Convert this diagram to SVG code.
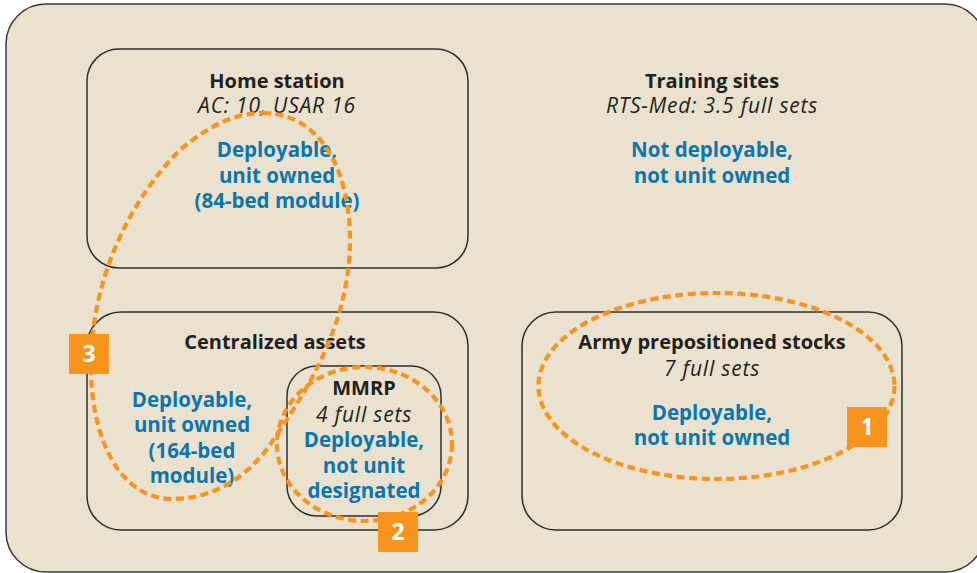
<svg xmlns="http://www.w3.org/2000/svg" width="977" height="573" viewBox="0 0 977 573">
  <style>
    .panel { fill: #EAE1CF; stroke: #3A3A3A; stroke-width: 1.5; }
    .box { fill: none; stroke: #2E2E2E; stroke-width: 1.5; }
    text { font-family: "Open Sans", "Noto Sans", "Liberation Sans", sans-serif; text-anchor: middle; font-size: 20px; }
    .title { font-weight: bold; fill: #231F20; }
    .sub { font-style: italic; fill: #231F20; font-size: 21px; letter-spacing: 0.8px; }
    .status { font-weight: bold; fill: #0B76AE; font-size: 20.5px; }
    .loop { fill: none; stroke: #F7941D; stroke-width: 4.2; stroke-dasharray: 8 4.5; }
    .badge { fill: #F7941D; }
    .badge-num { font-weight: bold; fill: #FFFFFF; font-size: 23px; }
  </style>

  <!-- background panel -->
  <rect class="panel" x="6" y="4" width="979" height="568" rx="40" ry="40"/>

  <g id="home-station">
    <rect class="box" x="87" y="49" width="381" height="219" rx="32" ry="32"/>
    <text class="title" x="277" y="88">Home station</text>
    <text class="sub" x="277" y="113">AC: 10, USAR 16</text>
    <text class="status" x="277" y="157">Deployable,</text>
    <text class="status" x="277" y="183">unit owned</text>
    <text class="status" x="277" y="208">(84-bed module)</text>
  </g>

  <g id="training-sites">
    <text class="title" x="712" y="88">Training sites</text>
    <text class="sub" x="712" y="113">RTS-Med: 3.5 full sets</text>
    <text class="status" x="712" y="157">Not deployable,</text>
    <text class="status" x="712" y="183">not unit owned</text>
  </g>

  <g id="centralized-assets">
    <rect class="box" x="87" y="312" width="381" height="218" rx="34" ry="34"/>
    <text class="title" x="275" y="349">Centralized assets</text>
    <text class="status" x="192" y="407">Deployable,</text>
    <text class="status" x="192" y="432">unit owned</text>
    <text class="status" x="192" y="458">(164-bed</text>
    <text class="status" x="192" y="483">module)</text>
  </g>

  <g id="mmrp">
    <rect class="box" x="287" y="366" width="154" height="150" rx="30" ry="30"/>
    <text class="title" x="364" y="395">MMRP</text>
    <text class="sub" x="364" y="422">4 full sets</text>
    <text class="status" x="364" y="447">Deployable,</text>
    <text class="status" x="364" y="473">not unit</text>
    <text class="status" x="364" y="498">designated</text>
  </g>

  <g id="army-prepositioned-stocks">
    <rect class="box" x="522" y="312" width="380" height="218" rx="34" ry="34"/>
    <text class="title" x="712" y="349">Army prepositioned stocks</text>
    <text class="sub" x="712" y="376">7 full sets</text>
    <text class="status" x="712" y="420">Deployable,</text>
    <text class="status" x="712" y="445">not unit owned</text>
  </g>

  <!-- dashed groupings -->
  <g id="connectors">
    <ellipse class="loop" cx="716.5" cy="386" rx="178" ry="93"/>
    <ellipse class="loop" cx="364.5" cy="444" rx="87.5" ry="77"/>
    <path class="loop" d="M263,113 C320,113 350,170 350,240 C350,330 300,400 270,445 C245,480 210,499 173,499 C120,499 92,440 91,370 C90,280 130,200 180,150 C210,125 235,113 263,113 Z"/>
  </g>

  <g id="badge-1">
    <rect class="badge" x="847" y="407" width="40" height="40"/>
    <text class="badge-num" x="867" y="435">1</text>
  </g>
  <g id="badge-2">
    <rect class="badge" x="378" y="512" width="40" height="40"/>
    <text class="badge-num" x="398" y="540">2</text>
  </g>
  <g id="badge-3">
    <rect class="badge" x="69" y="334" width="40" height="40"/>
    <text class="badge-num" x="89" y="362">3</text>
  </g>
</svg>
